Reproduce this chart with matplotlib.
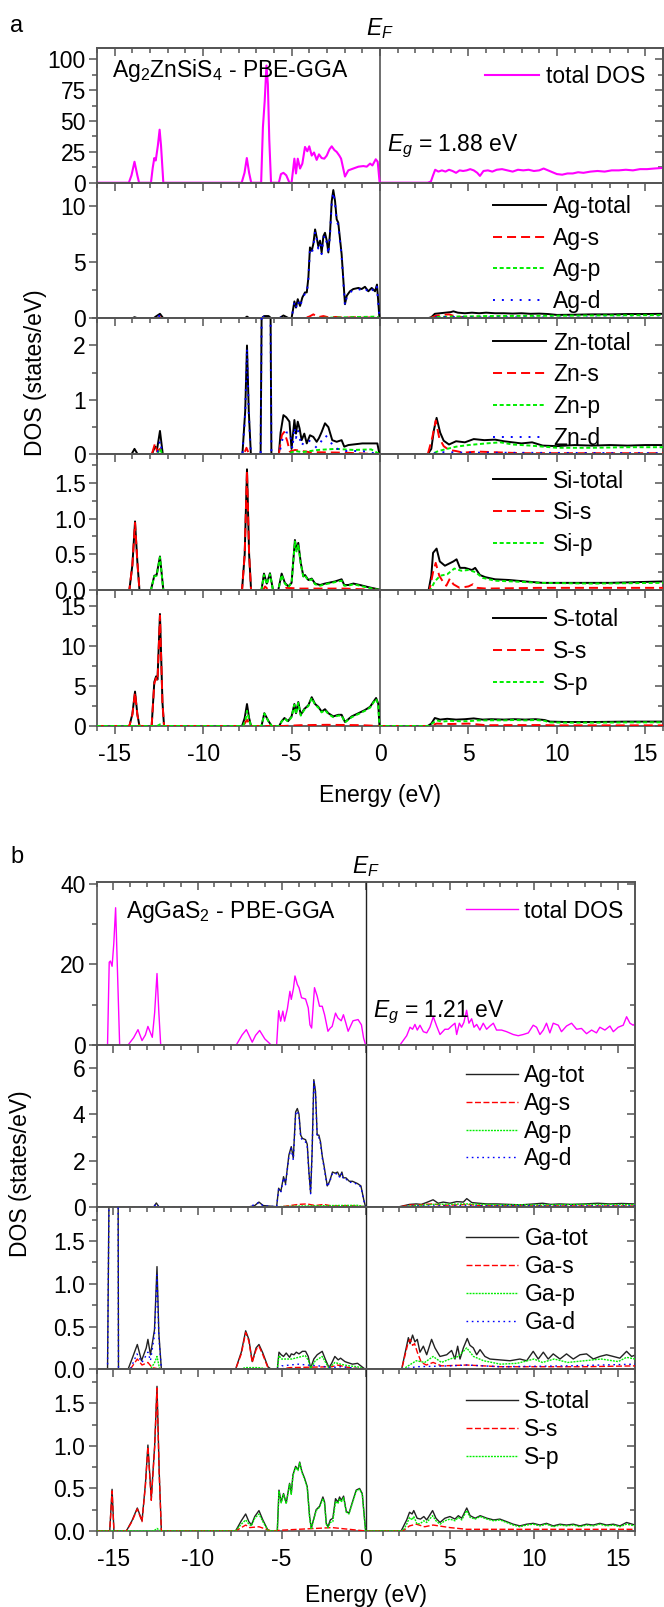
import numpy as np
import matplotlib
matplotlib.use('Agg')
import matplotlib.pyplot as plt
from matplotlib.ticker import MultipleLocator

plt.rcParams['font.family'] = ['Liberation Sans', 'DejaVu Sans']
plt.rcParams['mathtext.fontset'] = 'custom'
plt.rcParams['mathtext.rm'] = 'Liberation Sans'
plt.rcParams['mathtext.it'] = 'Liberation Sans:italic'
plt.rcParams['lines.scale_dashes'] = False
plt.rcParams['axes.unicode_minus'] = False

# ---------------- panel a : Ag2ZnSiS4 (energy eV, DOS) ----------------
a_tot = np.array([
    [-16.0, 0], [-14.2, 0], [-14.05, 6], [-13.88, 17], [-13.72, 6], [-13.62, 0],
    [-12.95, 0], [-12.85, 12], [-12.76, 20], [-12.68, 18], [-12.56, 30], [-12.46, 43], [-12.38, 30], [-12.25, 0],
    [-7.82, 0], [-7.66, 8], [-7.53, 20], [-7.4, 8], [-7.28, 0],
    [-6.72, 0], [-6.62, 45], [-6.52, 66], [-6.42, 95], [-6.34, 80], [-6.26, 35], [-6.16, 0],
    [-5.72, 0], [-5.6, 7], [-5.46, 8], [-5.3, 6], [-5.12, 0],
    [-5.0, 0], [-4.84, 19.5], [-4.75, 7.5], [-4.65, 19.5], [-4.52, 11.5], [-4.39, 15.5], [-4.24, 29],
    [-4.11, 25.5], [-4.0, 29.5], [-3.86, 22], [-3.73, 24.5], [-3.58, 18.5], [-3.45, 23], [-3.3, 20],
    [-3.15, 19.5], [-3.01, 22], [-2.86, 27], [-2.73, 29.5], [-2.58, 26.5], [-2.45, 25], [-2.3, 22],
    [-2.2, 19.5], [-1.98, 5], [-1.79, 10], [-1.51, 11.5], [-1.22, 13], [-0.94, 13.5], [-0.75, 13],
    [-0.56, 15.5], [-0.43, 14], [-0.24, 19], [-0.13, 17], [-0.02, 0],
    [2.7, 0], [2.88, 1], [3.0, 6], [3.12, 10.5], [3.3, 9], [3.5, 10], [3.7, 9], [3.9, 10.5], [4.1, 9.5],
    [4.3, 8], [4.5, 10], [4.7, 9.5], [4.9, 10], [5.1, 11], [5.3, 10], [5.5, 8], [5.65, 5.5], [5.85, 9.5],
    [6.1, 10], [6.35, 9], [6.6, 10.5], [6.9, 11], [7.2, 10], [7.5, 9], [7.8, 10.5], [8.1, 10], [8.4, 10.5],
    [8.7, 9.5], [9.0, 10], [9.25, 11.5], [9.5, 10], [9.75, 8.5], [10.0, 7], [10.3, 6.5], [10.6, 7.5],
    [10.9, 7.5], [11.2, 8.5], [11.5, 8], [11.9, 9], [12.3, 9.5], [12.7, 9], [13.1, 10], [13.5, 10],
    [13.9, 10.5], [14.3, 10], [14.7, 11], [15.1, 11], [15.5, 11.5], [16.0, 12]])

a_ag_tot = np.array([
    [-16, 0], [-14.0, 0], [-13.88, 0.1], [-13.7, 0], [-12.8, 0], [-12.68, 0.15], [-12.44, 0.4], [-12.25, 0],
    [-7.65, 0], [-7.52, 0.15], [-7.38, 0], [-6.7, 0], [-6.55, 0.2], [-6.3, 0.2], [-6.15, 0], [-5.7, 0],
    [-5.46, 0.25], [-5.15, 0], [-5.0, 0], [-4.84, 1.5], [-4.75, 0.95], [-4.65, 1.7], [-4.52, 1.1],
    [-4.39, 1.85], [-4.24, 2.3], [-4.14, 2.3], [-4.05, 3.6], [-3.96, 6.3], [-3.86, 6.0], [-3.77, 6.6],
    [-3.67, 7.9], [-3.58, 7.2], [-3.49, 6.4], [-3.39, 6.9], [-3.3, 5.85], [-3.2, 7.3], [-3.11, 7.6],
    [-3.01, 6.9], [-2.92, 5.85], [-2.83, 7.5], [-2.73, 10.4], [-2.64, 11.4], [-2.54, 10.4], [-2.45, 8.8],
    [-2.36, 8.5], [-2.17, 5.7], [-1.98, 1.25], [-1.88, 2.0], [-1.7, 2.4], [-1.51, 2.6], [-1.22, 2.7],
    [-1.04, 2.6], [-0.85, 2.8], [-0.66, 2.4], [-0.47, 2.7], [-0.28, 2.4], [-0.17, 3.0], [-0.03, 0],
    [2.7, 0], [2.9, 0.1], [3.1, 0.4], [3.4, 0.45], [3.7, 0.5], [4.0, 0.55], [4.15, 0.62], [4.4, 0.5],
    [4.8, 0.45], [5.2, 0.5], [5.6, 0.45], [6.0, 0.5], [6.5, 0.45], [7.0, 0.45], [7.5, 0.42], [8.0, 0.45],
    [8.5, 0.4], [9.0, 0.42], [9.5, 0.38], [10.0, 0.3], [11.0, 0.32], [12.0, 0.35], [13.0, 0.35],
    [14.0, 0.38], [15.0, 0.38], [16.0, 0.4]])
a_ag_s = np.array([
    [-16, 0], [-12.6, 0], [-12.45, 0.1], [-12.3, 0], [-4.3, 0], [-4.0, 0.15], [-3.77, 0.35], [-3.5, 0.1],
    [-3.2, 0.2], [-2.9, 0.08], [-2.5, 0.12], [-2.0, 0.05], [-1.5, 0.1], [-1.0, 0.05], [-0.5, 0.08], [0, 0],
    [2.8, 0], [3.1, 0.2], [3.5, 0.3], [3.9, 0.35], [4.2, 0.2], [4.6, 0.1], [5.0, 0.05], [6.0, 0.03],
    [16.0, 0.02]])
a_ag_p = np.array([
    [-16, 0], [-5.0, 0], [-3.0, 0.05], [-1.0, 0.12], [-0.2, 0.15], [0, 0], [2.8, 0], [3.2, 0.12],
    [4.0, 0.15], [6.0, 0.2], [9.0, 0.22], [12.0, 0.25], [16.0, 0.28]])
a_ag_d = np.array([
    [-16, 0], [-12.6, 0], [-12.44, 0.3], [-12.25, 0], [-6.7, 0], [-6.55, 0.15], [-6.3, 0.15], [-6.15, 0],
    [-5.7, 0], [-5.46, 0.2], [-5.15, 0], [-5.0, 0], [-4.84, 1.4], [-4.75, 0.9], [-4.65, 1.6], [-4.52, 1.0],
    [-4.39, 1.75], [-4.24, 2.2], [-4.14, 2.2], [-4.05, 3.5], [-3.96, 6.1], [-3.86, 5.8], [-3.77, 6.3],
    [-3.67, 7.7], [-3.58, 7.0], [-3.49, 6.2], [-3.39, 6.7], [-3.3, 5.7], [-3.2, 7.1], [-3.11, 7.4],
    [-3.01, 6.7], [-2.92, 5.7], [-2.83, 7.3], [-2.73, 10.2], [-2.64, 11.2], [-2.54, 10.2], [-2.45, 8.6],
    [-2.36, 8.3], [-2.17, 5.5], [-1.98, 1.15], [-1.88, 1.9], [-1.7, 2.3], [-1.51, 2.5], [-1.22, 2.6],
    [-1.04, 2.5], [-0.85, 2.7], [-0.66, 2.3], [-0.47, 2.6], [-0.28, 2.3], [-0.17, 2.8], [-0.03, 0],
    [2.8, 0], [3.2, 0.1], [4.0, 0.12], [5.0, 0.08], [8.0, 0.07], [12.0, 0.06], [16.0, 0.06]])

a_zn_tot = np.array([
    [-16, 0], [-14.05, 0], [-13.88, 0.1], [-13.7, 0], [-12.9, 0], [-12.72, 0.14], [-12.6, 0.1],
    [-12.44, 0.43], [-12.28, 0], [-7.78, 0], [-7.62, 0.8], [-7.52, 2.0], [-7.42, 0.8], [-7.3, 0],
    [-6.75, 0], [-6.66, 4.0], [-6.5, 7.0], [-6.4, 5.0], [-6.25, 6.0], [-6.14, 0], [-5.72, 0],
    [-5.62, 0.4], [-5.46, 0.72], [-5.3, 0.68], [-5.12, 0.6], [-5.0, 0.1], [-4.84, 0.63], [-4.75, 0.38],
    [-4.65, 0.6], [-4.55, 0.48], [-4.43, 0.26], [-4.28, 0.38], [-4.14, 0.2], [-3.96, 0.35], [-3.77, 0.32],
    [-3.58, 0.23], [-3.45, 0.3], [-3.3, 0.41], [-3.11, 0.57], [-2.92, 0.5], [-2.7, 0.26], [-2.45, 0.23],
    [-2.17, 0.26], [-2.02, 0.14], [-1.79, 0.17], [-1.0, 0.2], [-0.15, 0.2], [-0.03, 0],
    [2.7, 0], [2.9, 0.1], [3.05, 0.45], [3.2, 0.67], [3.4, 0.4], [3.6, 0.25], [3.9, 0.18], [4.3, 0.24],
    [4.8, 0.22], [5.3, 0.28], [5.9, 0.26], [6.5, 0.27], [7.0, 0.24], [7.5, 0.22], [8.0, 0.2], [8.6, 0.22],
    [9.2, 0.16], [10.0, 0.15], [11.0, 0.17], [12.0, 0.16], [13.0, 0.17], [14.0, 0.16], [15.0, 0.17],
    [16.0, 0.17]])
a_zn_s = np.array([
    [-16, 0], [-12.9, 0], [-12.72, 0.2], [-12.6, 0.05], [-12.44, 0.1], [-12.28, 0], [-7.7, 0],
    [-7.55, 0.12], [-7.4, 0], [-5.72, 0], [-5.55, 0.35], [-5.42, 0.41], [-5.25, 0.25], [-5.1, 0.05],
    [-4.8, 0.08], [-4.0, 0.04], [-2.0, 0.03], [0, 0], [2.7, 0], [2.95, 0.3], [3.15, 0.62], [3.35, 0.3],
    [3.6, 0.15], [3.9, 0.08], [4.3, 0.06], [4.7, 0.03], [5.5, 0.05], [8.0, 0.02], [16.0, 0.02]])
a_zn_p = np.array([
    [-16, 0], [-12.6, 0], [-12.44, 0.1], [-12.3, 0], [-5.3, 0], [-4.8, 0.06], [-4.4, 0.04], [-3.5, 0.08],
    [-2.5, 0.1], [-1.5, 0.08], [-0.5, 0.09], [0, 0], [2.9, 0], [3.3, 0.06], [3.8, 0.1], [4.3, 0.14],
    [5.0, 0.17], [6.0, 0.2], [6.8, 0.22], [7.5, 0.18], [8.5, 0.16], [10.0, 0.12], [12.0, 0.12],
    [14.0, 0.13], [16.0, 0.13]])
a_zn_d = np.array([
    [-16, 0], [-12.6, 0], [-12.44, 0.25], [-12.3, 0], [-7.78, 0], [-7.62, 0.75], [-7.52, 1.95],
    [-7.42, 0.75], [-7.3, 0], [-6.75, 0], [-6.66, 3.9], [-6.5, 6.9], [-6.4, 4.9], [-6.25, 5.9], [-6.14, 0],
    [-5.7, 0], [-5.5, 0.3], [-5.3, 0.4], [-5.1, 0.4], [-4.95, 0.1], [-4.84, 0.5], [-4.75, 0.3],
    [-4.65, 0.45], [-4.43, 0.15], [-4.28, 0.25], [-4.0, 0.25], [-3.58, 0.12], [-3.3, 0.25], [-3.11, 0.35],
    [-2.92, 0.3], [-2.6, 0.12], [-2.0, 0.06], [-1.0, 0.06], [0, 0], [2.9, 0], [3.3, 0.04], [5.0, 0.03],
    [16.0, 0.02]])

a_si_tot = np.array([
    [-16, 0], [-14.17, 0], [-14.0, 0.35], [-13.85, 0.96], [-13.72, 0.4], [-13.6, 0], [-12.95, 0],
    [-12.76, 0.2], [-12.63, 0.21], [-12.44, 0.47], [-12.25, 0], [-7.8, 0], [-7.65, 0.5], [-7.52, 1.69],
    [-7.4, 0.5], [-7.29, 0], [-6.7, 0], [-6.56, 0.23], [-6.4, 0.09], [-6.22, 0.235], [-6.05, 0],
    [-5.75, 0], [-5.56, 0.23], [-5.38, 0.1], [-5.18, 0.05], [-5.0, 0.1], [-4.81, 0.7], [-4.72, 0.56],
    [-4.62, 0.66], [-4.48, 0.38], [-4.33, 0.19], [-4.24, 0.21], [-4.05, 0.14], [-3.86, 0.16],
    [-3.67, 0.09], [-3.39, 0.07], [-3.11, 0.09], [-2.92, 0.1], [-2.54, 0.12], [-2.17, 0.15],
    [-2.02, 0.07], [-1.79, 0.07], [-1.51, 0.09], [-1.13, 0.07], [-0.66, 0.04], [-0.1, 0.01], [0, 0],
    [2.75, 0], [2.9, 0.2], [3.0, 0.52], [3.2, 0.58], [3.38, 0.4], [3.67, 0.34], [4.15, 0.4], [4.33, 0.43],
    [4.52, 0.31], [4.8, 0.31], [5.2, 0.28], [5.38, 0.31], [5.65, 0.21], [5.95, 0.18], [6.5, 0.15],
    [7.3, 0.14], [8.2, 0.12], [9.2, 0.1], [11.0, 0.1], [13.0, 0.1], [16.0, 0.12]])
a_si_s = np.array([
    [-16, 0], [-14.17, 0], [-14.0, 0.35], [-13.85, 0.94], [-13.72, 0.4], [-13.6, 0], [-7.8, 0],
    [-7.65, 0.5], [-7.52, 1.67], [-7.4, 0.5], [-7.29, 0], [-6.6, 0], [-6.5, 0.05], [-6.3, 0], [-5.5, 0],
    [-5.3, 0.03], [-4.5, 0.02], [-2.0, 0.02], [0, 0], [2.8, 0], [3.0, 0.25], [3.15, 0.38], [3.35, 0.2],
    [3.55, 0.12], [3.75, 0.06], [3.95, 0.16], [4.15, 0.08], [4.5, 0.03], [5.0, 0.05], [5.25, 0.08],
    [5.5, 0.03], [6.0, 0.02], [9.0, 0.03], [16.0, 0.03]])
a_si_p = np.array([
    [-16, 0], [-12.95, 0], [-12.76, 0.19], [-12.63, 0.2], [-12.44, 0.46], [-12.25, 0], [-6.7, 0],
    [-6.56, 0.21], [-6.4, 0.08], [-6.22, 0.22], [-6.05, 0], [-5.75, 0], [-5.56, 0.21], [-5.38, 0.09],
    [-5.18, 0.04], [-5.0, 0.1], [-4.81, 0.68], [-4.72, 0.54], [-4.62, 0.64], [-4.48, 0.36], [-4.33, 0.18],
    [-4.24, 0.2], [-4.05, 0.13], [-3.86, 0.15], [-3.67, 0.08], [-3.39, 0.06], [-3.11, 0.08], [-2.92, 0.09],
    [-2.54, 0.11], [-2.17, 0.13], [-2.02, 0.06], [-1.79, 0.06], [-1.51, 0.08], [-1.13, 0.06],
    [-0.66, 0.03], [0, 0], [2.85, 0], [3.1, 0.12], [3.4, 0.2], [3.8, 0.22], [4.2, 0.3], [4.6, 0.27],
    [5.0, 0.28], [5.4, 0.25], [5.8, 0.17], [6.5, 0.13], [7.5, 0.12], [9.0, 0.1], [12.0, 0.09], [16.0, 0.1]])

a_s_tot = np.array([
    [-16, 0], [-14.17, 0], [-14.0, 1.5], [-13.85, 4.3], [-13.72, 1.5], [-13.6, 0], [-12.91, 0],
    [-12.76, 5.5], [-12.66, 6.2], [-12.58, 5.8], [-12.44, 14.0], [-12.3, 3], [-12.21, 0], [-7.8, 0],
    [-7.65, 1.0], [-7.52, 2.75], [-7.4, 1.0], [-7.29, 0], [-6.7, 0], [-6.54, 1.6], [-6.3, 0.6],
    [-6.12, 0], [-5.7, 0], [-5.56, 0.6], [-5.4, 1.0], [-5.2, 0.6], [-5.0, 1.2], [-4.84, 2.75],
    [-4.75, 1.6], [-4.62, 3.0], [-4.48, 1.4], [-4.29, 2.1], [-4.05, 2.6], [-3.86, 3.6], [-3.67, 2.75],
    [-3.49, 2.4], [-3.3, 1.8], [-3.11, 2.1], [-2.92, 1.6], [-2.64, 1.2], [-2.36, 1.4], [-2.17, 1.4],
    [-1.98, 0.5], [-1.6, 1.2], [-1.22, 1.6], [-0.85, 2.0], [-0.56, 2.4], [-0.38, 3.0], [-0.22, 3.5],
    [-0.1, 2.8], [-0.03, 0], [2.7, 0], [2.9, 0.3], [3.1, 1.0], [3.4, 0.8], [3.8, 0.9], [4.3, 0.8],
    [4.8, 0.85], [5.3, 0.95], [5.8, 0.8], [6.3, 0.85], [7.0, 0.8], [7.6, 0.85], [8.2, 0.8], [8.8, 0.85],
    [9.3, 0.75], [9.6, 0.55], [10.5, 0.5], [12.0, 0.5], [14.0, 0.55], [16.0, 0.55]])
a_s_s = np.array([
    [-16, 0], [-14.17, 0], [-14.0, 1.4], [-13.85, 4.2], [-13.72, 1.4], [-13.6, 0], [-12.91, 0],
    [-12.76, 5.3], [-12.66, 6.0], [-12.58, 5.6], [-12.44, 13.8], [-12.3, 2.9], [-12.21, 0], [-7.8, 0],
    [-7.65, 0.3], [-7.52, 0.8], [-7.4, 0.3], [-7.29, 0], [-5.5, 0], [-4.5, 0.1], [-3.0, 0.15],
    [-1.0, 0.1], [0, 0], [2.8, 0], [3.2, 0.3], [4.0, 0.25], [5.0, 0.3], [5.5, 0.2], [6.0, 0.1],
    [9.0, 0.12], [10.0, 0.08], [16.0, 0.08]])
a_s_p = np.array([
    [-16, 0], [-12.6, 0], [-12.44, 0.2], [-12.3, 0], [-7.75, 0], [-7.6, 0.8], [-7.52, 1.9], [-7.4, 0.8],
    [-7.29, 0], [-6.7, 0], [-6.54, 1.55], [-6.3, 0.55], [-6.12, 0], [-5.7, 0], [-5.56, 0.55], [-5.4, 0.95],
    [-5.2, 0.55], [-5.0, 1.1], [-4.84, 2.65], [-4.75, 1.5], [-4.62, 2.9], [-4.48, 1.3], [-4.29, 2.0],
    [-4.05, 2.5], [-3.86, 3.5], [-3.67, 2.65], [-3.49, 2.3], [-3.3, 1.7], [-3.11, 2.0], [-2.92, 1.5],
    [-2.64, 1.1], [-2.36, 1.3], [-2.17, 1.3], [-1.98, 0.45], [-1.6, 1.1], [-1.22, 1.5], [-0.85, 1.9],
    [-0.56, 2.3], [-0.38, 2.9], [-0.22, 3.4], [-0.1, 2.7], [-0.03, 0], [2.75, 0], [3.0, 0.4], [3.2, 0.7],
    [3.5, 0.55], [4.0, 0.65], [4.5, 0.6], [5.0, 0.6], [5.5, 0.7], [6.0, 0.7], [6.5, 0.72], [7.0, 0.7],
    [7.6, 0.75], [8.2, 0.7], [8.8, 0.75], [9.3, 0.65], [9.6, 0.45], [10.5, 0.42], [12.0, 0.42],
    [14.0, 0.45], [16.0, 0.46]])

# ---------------- panel b : AgGaS2 ----------------
b_tot = np.array([
    [-16, 0], [-15.35, 0], [-15.25, 20.5], [-15.18, 20.8], [-15.08, 19.5], [-14.98, 25], [-14.87, 34],
    [-14.77, 20], [-14.63, 0], [-14.13, 0], [-13.8, 1.8], [-13.54, 3.8], [-13.3, 1.1], [-13.1, 2.5],
    [-12.95, 4.6], [-12.69, 1.9], [-12.55, 8], [-12.41, 17.7], [-12.3, 8], [-12.19, 0],
    [-7.7, 0], [-7.35, 2.5], [-7.1, 3.8], [-6.9, 2.0], [-6.75, 0.7], [-6.55, 2.4], [-6.31, 3.6],
    [-6.0, 1.5], [-5.62, 0], [-5.3, 0], [-5.18, 8.5], [-5.06, 5.9], [-4.93, 8.4], [-4.83, 5.9],
    [-4.66, 9.0], [-4.51, 13.3], [-4.43, 11.3], [-4.3, 14], [-4.21, 17.1], [-4.07, 15.0], [-3.97, 14.2],
    [-3.82, 11.7], [-3.58, 11.4], [-3.42, 9.2], [-3.32, 5.0], [-3.22, 4.2], [-3.05, 14.2], [-2.89, 12.1],
    [-2.75, 9.6], [-2.59, 9.6], [-2.45, 7.5], [-2.25, 3.4], [-2.11, 4.2], [-2.0, 4.6], [-1.8, 7.9],
    [-1.66, 6.7], [-1.46, 6.0], [-1.33, 7.5], [-1.19, 5.5], [-1.05, 3.4], [-0.76, 6.0], [-0.46, 6.3],
    [-0.26, 5.0], [-0.13, 1.7], [-0.01, 0],
    [2.03, 0], [2.43, 2.3], [2.63, 4.4], [2.78, 3.9], [2.92, 5.1], [3.06, 3.7], [3.22, 4.9], [3.42, 3.3],
    [3.62, 3.0], [3.81, 4.4], [4.01, 7.0], [4.21, 4.7], [4.41, 2.6], [4.7, 3.9], [4.9, 3.9], [5.1, 4.7],
    [5.3, 5.4], [5.4, 2.6], [5.56, 5.4], [5.69, 4.4], [5.83, 5.6], [5.99, 8.6], [6.13, 5.4], [6.29, 6.5],
    [6.43, 4.4], [6.59, 5.1], [6.78, 3.7], [6.98, 5.4], [7.18, 3.9], [7.38, 4.7], [7.58, 5.4], [7.77, 3.7],
    [8.07, 3.7], [8.37, 3.3], [8.76, 2.6], [9.06, 2.3], [9.36, 2.6], [9.66, 3.0], [9.95, 4.9],
    [10.15, 4.4], [10.35, 2.6], [10.55, 3.7], [10.74, 5.4], [10.94, 3.0], [11.14, 5.4], [11.44, 4.9],
    [11.63, 3.3], [11.93, 4.7], [12.23, 5.4], [12.53, 3.9], [12.82, 4.1], [13.12, 2.8], [13.42, 3.7],
    [13.71, 3.0], [13.91, 4.4], [14.21, 3.7], [14.51, 4.7], [14.71, 3.3], [15.0, 4.4], [15.3, 4.9],
    [15.5, 7.0], [15.7, 5.4], [15.89, 4.9], [16.05, 5.4]])

b_ag_tot = np.array([
    [-16, 0], [-12.6, 0], [-12.45, 0.16], [-12.3, 0], [-6.9, 0], [-6.6, 0.05], [-6.35, 0.2], [-6.1, 0.05],
    [-5.3, 0], [-5.18, 0.8], [-5.05, 0.66], [-4.89, 1.3], [-4.77, 1.0], [-4.57, 2.24], [-4.43, 2.6],
    [-4.31, 2.1], [-4.17, 4.1], [-4.07, 4.25], [-3.97, 4.0], [-3.87, 3.1], [-3.77, 2.96], [-3.58, 2.9],
    [-3.48, 2.7], [-3.38, 1.5], [-3.28, 0.6], [-3.19, 2.4], [-3.09, 5.5], [-2.99, 5.0], [-2.89, 3.1],
    [-2.79, 3.1], [-2.69, 2.8], [-2.59, 2.2], [-2.49, 1.8], [-2.29, 0.9], [-2.15, 1.1], [-1.98, 1.5],
    [-1.82, 1.45], [-1.68, 1.5], [-1.54, 1.3], [-1.42, 1.5], [-1.34, 1.25], [-1.18, 1.25], [-0.98, 1.1],
    [-0.79, 1.1], [-0.49, 1.0], [-0.29, 0.9], [-0.12, 0.3], [-0.02, 0],
    [2.0, 0], [2.3, 0.05], [2.6, 0.1], [3.0, 0.12], [3.3, 0.1], [3.6, 0.18], [4.0, 0.3], [4.3, 0.15],
    [4.6, 0.2], [5.0, 0.15], [5.4, 0.22], [5.8, 0.2], [6.0, 0.35], [6.3, 0.18], [6.7, 0.15], [7.2, 0.12],
    [7.8, 0.12], [8.5, 0.1], [9.2, 0.08], [10.0, 0.12], [10.5, 0.15], [11.0, 0.1], [11.5, 0.12],
    [12.2, 0.1], [13.0, 0.12], [13.8, 0.15], [14.5, 0.12], [15.2, 0.14], [16.0, 0.12]])
b_ag_s = np.array([
    [-16, 0], [-5.0, 0], [-4.5, 0.05], [-4.0, 0.1], [-3.5, 0.12], [-3.0, 0.05], [-2.5, 0.1], [-2.0, 0.03],
    [-1.0, 0.05], [0, 0], [2.1, 0], [2.6, 0.08], [3.0, 0.06], [3.5, 0.1], [4.0, 0.12], [4.5, 0.06],
    [5.5, 0.08], [6.0, 0.1], [7.0, 0.04], [16.0, 0.03]])
b_ag_p = np.array([
    [-16, 0], [-5.2, 0], [-4.0, 0.03], [-2.0, 0.05], [-0.5, 0.06], [0, 0], [2.2, 0], [3.0, 0.05],
    [4.0, 0.1], [6.0, 0.12], [8.0, 0.08], [10.0, 0.08], [13.0, 0.1], [16.0, 0.09]])
b_ag_d = np.array([
    [-16, 0], [-12.6, 0], [-12.45, 0.12], [-12.3, 0], [-6.9, 0], [-6.35, 0.18], [-6.1, 0.04], [-5.3, 0],
    [-5.18, 0.75], [-5.05, 0.62], [-4.89, 1.25], [-4.77, 0.95], [-4.57, 2.18], [-4.43, 2.52],
    [-4.31, 2.02], [-4.17, 4.0], [-4.07, 4.15], [-3.97, 3.9], [-3.87, 3.0], [-3.77, 2.88], [-3.58, 2.8],
    [-3.48, 2.62], [-3.38, 1.45], [-3.28, 0.56], [-3.19, 2.35], [-3.09, 5.4], [-2.99, 4.9], [-2.89, 3.0],
    [-2.79, 3.0], [-2.69, 2.72], [-2.59, 2.12], [-2.49, 1.75], [-2.29, 0.86], [-2.15, 1.06],
    [-1.98, 1.45], [-1.82, 1.4], [-1.68, 1.45], [-1.54, 1.25], [-1.42, 1.45], [-1.34, 1.2], [-1.18, 1.2],
    [-0.98, 1.05], [-0.79, 1.06], [-0.49, 0.96], [-0.29, 0.86], [-0.12, 0.28], [-0.02, 0],
    [2.2, 0], [3.0, 0.03], [6.0, 0.04], [16.0, 0.03]])

b_ga_tot = np.array([
    [-16, 0], [-15.35, 0], [-15.22, 3.0], [-15.1, 20], [-14.95, 25], [-14.8, 10], [-14.7, 0],
    [-14.13, 0], [-13.84, 0.15], [-13.58, 0.29], [-13.33, 0.1], [-13.05, 0.25], [-12.95, 0.35],
    [-12.8, 0.17], [-12.56, 0.46], [-12.41, 1.2], [-12.3, 0.42], [-12.15, 0],
    [-7.74, 0], [-7.4, 0.2], [-7.14, 0.45], [-6.95, 0.35], [-6.75, 0.09], [-6.52, 0.25], [-6.35, 0.29],
    [-6.12, 0.19], [-5.82, 0.03], [-5.62, 0], [-5.26, 0], [-5.16, 0.2], [-5.03, 0.17], [-4.89, 0.15],
    [-4.73, 0.19], [-4.53, 0.14], [-4.43, 0.18], [-4.27, 0.17], [-4.13, 0.2], [-3.97, 0.18],
    [-3.77, 0.21], [-3.58, 0.21], [-3.42, 0.15], [-3.28, 0.01], [-3.09, 0.12], [-2.89, 0.17],
    [-2.59, 0.21], [-2.39, 0.11], [-2.19, 0.02], [-2.03, 0.07], [-1.84, 0.15], [-1.64, 0.11],
    [-1.5, 0.13], [-1.24, 0.09], [-1.1, 0.08], [-0.79, 0.06], [-0.49, 0.07], [-0.23, 0.03], [-0.03, 0],
    [2.13, 0], [2.53, 0.37], [2.63, 0.3], [2.78, 0.4], [2.92, 0.32], [3.06, 0.35], [3.22, 0.2],
    [3.42, 0.27], [3.62, 0.17], [3.91, 0.35], [4.11, 0.25], [4.41, 0.15], [4.81, 0.17], [5.1, 0.22],
    [5.3, 0.12], [5.46, 0.27], [5.6, 0.12], [5.8, 0.25], [6.03, 0.36], [6.19, 0.28], [6.39, 0.25],
    [6.59, 0.17], [6.79, 0.23], [7.08, 0.15], [7.38, 0.12], [7.97, 0.11], [8.57, 0.1], [9.16, 0.12],
    [9.56, 0.1], [9.95, 0.21], [10.25, 0.12], [10.55, 0.2], [10.84, 0.12], [11.14, 0.18], [11.54, 0.12],
    [11.93, 0.18], [12.33, 0.12], [12.73, 0.17], [13.12, 0.18], [13.52, 0.12], [13.91, 0.15],
    [14.31, 0.17], [14.71, 0.15], [15.1, 0.13], [15.5, 0.21], [15.8, 0.15], [16.05, 0.17]])
b_ga_s = np.array([
    [-16, 0], [-14.0, 0], [-13.58, 0.12], [-13.3, 0.05], [-12.95, 0.08], [-12.7, 0.02], [-12.2, 0],
    [-7.74, 0], [-7.4, 0.18], [-7.14, 0.43], [-6.95, 0.33], [-6.75, 0.08], [-6.52, 0.23], [-6.35, 0.27],
    [-6.12, 0.17], [-5.82, 0.02], [-5.62, 0], [-5.2, 0], [-4.5, 0.02], [-2.0, 0.03], [-1.7, 0.05],
    [-1.0, 0.02], [0, 0], [2.13, 0], [2.5, 0.3], [2.63, 0.35], [2.78, 0.28], [2.9, 0.3], [3.06, 0.2],
    [3.3, 0.08], [3.6, 0.05], [4.0, 0.08], [4.5, 0.04], [6.0, 0.05], [8.0, 0.03], [10.0, 0.03],
    [13.0, 0.03], [16.0, 0.04]])
b_ga_p = np.array([
    [-16, 0], [-12.8, 0], [-12.55, 0.08], [-12.41, 0.15], [-12.25, 0], [-7.5, 0], [-7.14, 0.02],
    [-6.4, 0.02], [-5.62, 0], [-5.26, 0], [-5.16, 0.16], [-5.0, 0.12], [-4.7, 0.12], [-4.4, 0.12],
    [-4.0, 0.14], [-3.6, 0.16], [-3.4, 0.1], [-3.28, 0.01], [-3.0, 0.1], [-2.59, 0.15], [-2.3, 0.05],
    [-2.19, 0.01], [-1.84, 0.08], [-1.5, 0.06], [-1.0, 0.04], [-0.5, 0.03], [0, 0], [2.2, 0], [2.6, 0.05],
    [3.0, 0.1], [3.5, 0.08], [4.0, 0.15], [4.5, 0.08], [5.0, 0.12], [5.5, 0.15], [6.0, 0.25], [6.4, 0.15],
    [7.0, 0.1], [8.0, 0.06], [9.0, 0.07], [10.0, 0.12], [10.5, 0.08], [11.2, 0.12], [12.0, 0.08],
    [13.0, 0.1], [14.0, 0.12], [15.0, 0.09], [15.5, 0.14], [16.0, 0.12]])
b_ga_d = np.array([
    [-16, 0], [-15.35, 0], [-15.22, 3.0], [-15.1, 20], [-14.95, 25], [-14.8, 10], [-14.7, 0], [-14.0, 0],
    [-13.6, 0.18], [-13.3, 0.08], [-12.95, 0.2], [-12.8, 0.1], [-12.56, 0.4], [-12.41, 1.1], [-12.3, 0.38],
    [-12.15, 0], [-5.3, 0], [-5.0, 0.04], [-4.5, 0.05], [-4.0, 0.06], [-3.5, 0.05], [-2.8, 0.04],
    [-2.0, 0.02], [-1.5, 0.03], [0, 0], [2.2, 0], [3.0, 0.03], [5.0, 0.04], [6.0, 0.05], [8.0, 0.03],
    [12.0, 0.04], [16.0, 0.06]])

b_s_tot = np.array([
    [-16, 0], [-15.22, 0], [-15.08, 0.49], [-14.97, 0], [-14.23, 0], [-13.9, 0.12], [-13.58, 0.27],
    [-13.3, 0.12], [-13.1, 0.55], [-12.95, 1.01], [-12.75, 0.38], [-12.55, 1.0], [-12.41, 1.7],
    [-12.28, 0.7], [-12.15, 0], [-7.74, 0], [-7.4, 0.12], [-7.14, 0.2], [-6.95, 0.11], [-6.8, 0.07],
    [-6.6, 0.17], [-6.35, 0.24], [-6.12, 0.13], [-5.82, 0.01], [-5.62, 0], [-5.26, 0], [-5.16, 0.48],
    [-5.03, 0.34], [-4.89, 0.44], [-4.73, 0.33], [-4.53, 0.56], [-4.43, 0.44], [-4.33, 0.66],
    [-4.17, 0.76], [-4.03, 0.72], [-3.93, 0.81], [-3.8, 0.7], [-3.64, 0.62], [-3.48, 0.52], [-3.34, 0.17],
    [-3.24, 0.03], [-3.14, 0.11], [-2.95, 0.25], [-2.75, 0.29], [-2.55, 0.4], [-2.45, 0.34],
    [-2.35, 0.09], [-2.25, 0.05], [-2.11, 0.13], [-1.96, 0.15], [-1.8, 0.38], [-1.66, 0.34], [-1.56, 0.4],
    [-1.46, 0.36], [-1.32, 0.41], [-1.16, 0.23], [-1.0, 0.21], [-0.81, 0.33], [-0.57, 0.48], [-0.37, 0.5],
    [-0.21, 0.44], [-0.07, 0.13], [-0.01, 0],
    [2.1, 0], [2.43, 0.13], [2.6, 0.22], [2.75, 0.2], [2.85, 0.24], [3.05, 0.15], [3.25, 0.14],
    [3.45, 0.17], [3.62, 0.13], [3.97, 0.24], [4.17, 0.15], [4.41, 0.1], [4.7, 0.15], [5.0, 0.17],
    [5.3, 0.14], [5.5, 0.18], [5.7, 0.15], [6.0, 0.27], [6.2, 0.18], [6.5, 0.15], [6.8, 0.18], [7.2, 0.15],
    [7.6, 0.13], [7.97, 0.14], [8.37, 0.11], [8.76, 0.08], [9.16, 0.06], [9.56, 0.08], [9.95, 0.09],
    [10.35, 0.07], [10.74, 0.09], [11.14, 0.06], [11.54, 0.08], [11.93, 0.07], [12.33, 0.08],
    [12.73, 0.06], [13.12, 0.08], [13.52, 0.07], [13.91, 0.09], [14.31, 0.07], [14.71, 0.08],
    [15.1, 0.06], [15.5, 0.1], [16.0, 0.07]])
b_s_s = np.array([
    [-16, 0], [-15.22, 0], [-15.08, 0.47], [-14.97, 0], [-14.23, 0], [-13.9, 0.11], [-13.58, 0.26],
    [-13.3, 0.11], [-13.1, 0.53], [-12.95, 0.99], [-12.75, 0.36], [-12.55, 0.98], [-12.41, 1.68],
    [-12.28, 0.68], [-12.15, 0], [-7.74, 0], [-7.14, 0.07], [-6.9, 0.04], [-6.35, 0.05], [-5.62, 0],
    [-5.0, 0.01], [-4.0, 0.02], [-2.0, 0.04], [-1.0, 0.02], [0, 0], [2.2, 0], [2.6, 0.06], [3.0, 0.08],
    [3.5, 0.05], [4.0, 0.07], [5.0, 0.04], [6.0, 0.02], [9.0, 0.02], [13.0, 0.02], [16.0, 0.02]])
b_s_p = np.array([
    [-16, 0], [-12.6, 0], [-12.41, 0.03], [-12.2, 0], [-7.74, 0], [-7.4, 0.08], [-7.14, 0.13],
    [-6.95, 0.08], [-6.8, 0.06], [-6.6, 0.15], [-6.35, 0.2], [-6.12, 0.11], [-5.82, 0.01], [-5.62, 0],
    [-5.26, 0], [-5.16, 0.47], [-5.03, 0.33], [-4.89, 0.43], [-4.73, 0.32], [-4.53, 0.55], [-4.43, 0.43],
    [-4.33, 0.65], [-4.17, 0.75], [-4.03, 0.71], [-3.93, 0.8], [-3.8, 0.69], [-3.64, 0.61], [-3.48, 0.51],
    [-3.34, 0.16], [-3.24, 0.02], [-3.14, 0.1], [-2.95, 0.24], [-2.75, 0.28], [-2.55, 0.38],
    [-2.45, 0.32], [-2.35, 0.08], [-2.25, 0.04], [-2.11, 0.1], [-1.96, 0.11], [-1.8, 0.35], [-1.66, 0.32],
    [-1.56, 0.38], [-1.46, 0.34], [-1.32, 0.39], [-1.16, 0.22], [-1.0, 0.2], [-0.81, 0.32], [-0.57, 0.47],
    [-0.37, 0.49], [-0.21, 0.43], [-0.07, 0.12], [-0.01, 0],
    [2.2, 0], [2.43, 0.08], [2.6, 0.16], [2.75, 0.13], [2.85, 0.17], [3.05, 0.08], [3.25, 0.09],
    [3.45, 0.12], [3.62, 0.1], [3.97, 0.18], [4.17, 0.12], [4.41, 0.08], [4.7, 0.12], [5.0, 0.14],
    [5.3, 0.12], [5.5, 0.16], [5.7, 0.13], [6.0, 0.24], [6.2, 0.16], [6.5, 0.14], [6.8, 0.17], [7.2, 0.14],
    [7.6, 0.12], [7.97, 0.13], [8.37, 0.1], [8.76, 0.07], [9.16, 0.05], [9.56, 0.07], [9.95, 0.08],
    [10.35, 0.06], [10.74, 0.08], [11.14, 0.05], [11.54, 0.07], [11.93, 0.06], [12.33, 0.07],
    [12.73, 0.05], [13.12, 0.07], [13.52, 0.06], [13.91, 0.08], [14.31, 0.06], [14.71, 0.07],
    [15.1, 0.05], [15.5, 0.08], [16.0, 0.06]])

# ---------------- figure ----------------
W, H = 664, 1607
fig = plt.figure(figsize=(W / 100, H / 100), dpi=100)
FS = 16.5
SPINE = '#555555'

def px_axes(left, right, top, bottom):
    return fig.add_axes([left / W, 1 - bottom / H, (right - left) / W, (bottom - top) / H])

def ftext(x, y, s, size=FS, **kw):
    fig.text(x / W, 1 - y / H, s, fontsize=size, **kw)

def style(ax, ymax, major, minor, xlabels, lw_sp):
    ax.set_xlim(-16, 16)
    ax.set_ylim(0, ymax)
    for sp in ax.spines.values():
        sp.set_color(SPINE)
        sp.set_linewidth(lw_sp)
    ax.xaxis.set_major_locator(MultipleLocator(5))
    ax.xaxis.set_minor_locator(MultipleLocator(1))
    ax.yaxis.set_major_locator(MultipleLocator(major))
    ax.yaxis.set_minor_locator(MultipleLocator(minor))
    ax.tick_params(which='both', direction='out', color=SPINE, width=1.1, labelsize=FS)
    ax.tick_params(which='major', length=6)
    ax.tick_params(which='minor', length=3.5)
    ax.tick_params(axis='y', pad=2)
    ax.tick_params(axis='x', pad=6, labelbottom=xlabels)
    # inward ticks on top and right
    sx = ax.secondary_xaxis('top')
    sx.xaxis.set_major_locator(MultipleLocator(5))
    sx.xaxis.set_minor_locator(MultipleLocator(1))
    sx.tick_params(which='both', direction='in', labeltop=False, color=SPINE, width=1.1)
    sx.tick_params(which='major', length=6)
    sx.tick_params(which='minor', length=3.5)
    sy = ax.secondary_yaxis('right')
    sy.yaxis.set_major_locator(MultipleLocator(major))
    sy.yaxis.set_minor_locator(MultipleLocator(minor))
    sy.tick_params(which='both', direction='in', labelright=False, color=SPINE, width=1.1)
    sy.tick_params(which='major', length=6)
    sy.tick_params(which='minor', length=3.5)
    for s in (sx, sy):
        for sp in s.spines.values():
            sp.set_color(SPINE)
            sp.set_linewidth(lw_sp)

def legend(ax, handles, labels, fx, row_off, ax_h, hl, lsp):
    fy = 1 - (row_off - 12.8) / ax_h
    ax.legend(handles, labels, loc='upper left', bbox_to_anchor=(fx, fy), frameon=False,
              fontsize=FS, borderpad=0, borderaxespad=0, handlelength=hl,
              handletextpad=0.3, labelspacing=lsp)

RED, GREEN, BLUE, MAG = '#ff0000', '#00ee00', '#0000ff', '#ff00ff'

# ----- panel a -----
a_tops = [47.7, 182.7, 318.3, 454.3, 590.0, 726.0]
a_L, a_R = 97, 663
a_specs = [
    (109.5, 25, 12.5, [a_tot], ['total DOS'], 30),
    (12.05, 5, 2.5, [a_ag_tot, a_ag_s, a_ag_p, a_ag_d], ['Ag-total', 'Ag-s', 'Ag-p', 'Ag-d'], 25),
    (2.5, 1, 0.5, [a_zn_tot, a_zn_s, a_zn_p, a_zn_d], ['Zn-total', 'Zn-s', 'Zn-p', 'Zn-d'], 26),
    (1.9, 0.5, 0.25, [a_si_tot, a_si_s, a_si_p], ['Si-total', 'Si-s', 'Si-p'], 28),
    (17, 5, 2.5, [a_s_tot, a_s_s, a_s_p], ['S-total', 'S-s', 'S-p'], 31),
]
a_style = [dict(color='k', lw=1.4),
           dict(color=RED, lw=1.4, dashes=(6.5, 3.6)),
           dict(color=GREEN, lw=1.4, dashes=(2.9, 1.9)),
           dict(color=BLUE, lw=1.4, dashes=(1.4, 5.0))]
a_axes = []
for i, (ymax, mj, mn, curves, names, off) in enumerate(a_specs):
    ax = px_axes(a_L, a_R, a_tops[i], a_tops[i + 1])
    ax.axvline(0, color='#555555', lw=1.2, zorder=1)
    hs = []
    for j, c in enumerate(curves):
        st = dict(color=MAG, lw=1.5) if i == 0 else a_style[j]
        h, = ax.plot(c[:, 0], c[:, 1], zorder=2 + j, **st)
        hs.append(h)
    style(ax, ymax, mj, mn, i == len(a_specs) - 1, 1.3)
    fx = (485 - a_L) / (a_R - a_L) if i == 0 else (492.5 - a_L) / (a_R - a_L)
    legend(ax, hs, names, fx, off, a_tops[i + 1] - a_tops[i], 2.35, 0.38)
    a_axes.append(ax)

a_axes[0].text(-15.15, 86, 'Ag$_2$ZnSiS$_4$ - PBE-GGA', fontsize=FS, va='baseline')
a_axes[0].text(0.4, 25.5, '$E_g$ = 1.88 eV', fontsize=FS, va='baseline')
ftext(10, 31.5, 'a', size=17, va='baseline')
ftext(380, 35, '$E_F$', ha='center', va='baseline')
ftext(380, 801.7, 'Energy (eV)', ha='center', va='baseline')
ftext(36, 372.5, 'DOS (states/eV)', ha='center', va='center', rotation=90)

# ----- panel b -----
b_tops = [882.3, 1045.0, 1206.7, 1369.3, 1531.0]
b_L, b_R = 96.6, 635
b_specs = [
    (40.3, 20, 10, [b_tot], ['total DOS'], 30),
    (7.0, 2, 1, [b_ag_tot, b_ag_s, b_ag_p, b_ag_d], ['Ag-tot', 'Ag-s', 'Ag-p', 'Ag-d'], 31.7),
    (1.9, 0.5, 0.25, [b_ga_tot, b_ga_s, b_ga_p, b_ga_d], ['Ga-tot', 'Ga-s', 'Ga-p', 'Ga-d'], 33.3),
    (1.9, 0.5, 0.25, [b_s_tot, b_s_s, b_s_p], ['S-total', 'S-s', 'S-p'], 34),
]
b_style = [dict(color='#222222', lw=1.0),
           dict(color=RED, lw=1.0, dashes=(4.3, 1.8)),
           dict(color=GREEN, lw=1.0, dashes=(1.4, 0.8)),
           dict(color=BLUE, lw=1.0, dashes=(1.2, 2.6))]
b_axes = []
for i, (ymax, mj, mn, curves, names, off) in enumerate(b_specs):
    ax = px_axes(b_L, b_R, b_tops[i], b_tops[i + 1])
    ax.axvline(0, color='#222222', lw=1.0, zorder=1)
    hs = []
    for j, c in enumerate(curves):
        st = dict(color=MAG, lw=1.0) if i == 0 else b_style[j]
        h, = ax.plot(c[:, 0], c[:, 1], zorder=2 + j, **st)
        hs.append(h)
    style(ax, ymax, mj, mn, i == len(b_specs) - 1, 1.2)
    legend(ax, hs, names, (466 - b_L) / (b_R - b_L), off, b_tops[i + 1] - b_tops[i], 2.25, 0.21)
    b_axes.append(ax)

b_axes[0].text(-14.25, 31.5, 'AgGaS$_2$ - PBE-GGA', fontsize=FS, va='baseline')
b_axes[0].text(0.4, 7.0, '$E_g$ = 1.21 eV', fontsize=FS, va='baseline')
ftext(10, 863, 'b', size=17, va='baseline')
ftext(365.8, 873, '$E_F$', ha='center', va='baseline')
ftext(365.8, 1601.7, 'Energy (eV)', ha='center', va='baseline')
ftext(21, 1174, 'DOS (states/eV)', ha='center', va='center', rotation=90)

fig.savefig('out.png', dpi=100)
